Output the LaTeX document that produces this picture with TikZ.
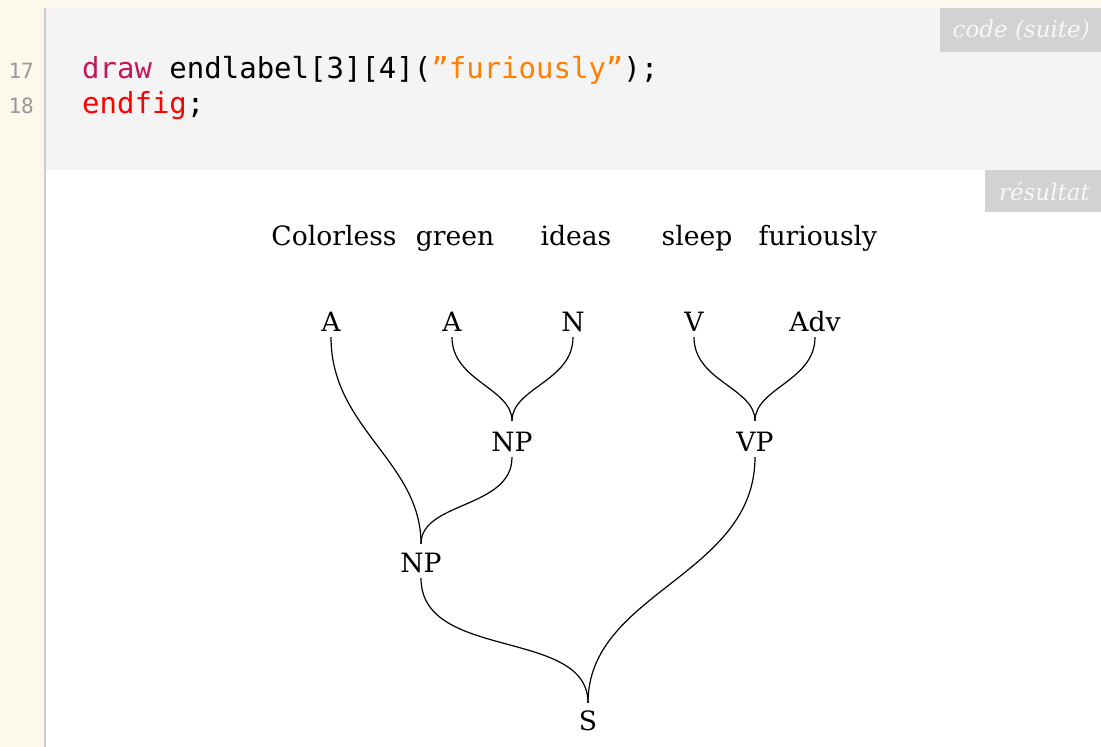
\documentclass[tikz,border=0pt]{standalone}
\usepackage{fontspec}
\setmainfont{DejaVu Serif}
\setmonofont{DejaVu Sans Mono}
\usepackage{xcolor}
\usepackage{tikz}

\definecolor{cream}{HTML}{FDF8EC}
\definecolor{codebg}{HTML}{F4F4F4}
\definecolor{tagbg}{HTML}{D1D2D4}
\definecolor{rulecol}{HTML}{CCCCCC}
\definecolor{lineno}{HTML}{999999}
\definecolor{kwdraw}{HTML}{C2185B}
\definecolor{kwend}{HTML}{FF0000}
\definecolor{strcol}{HTML}{FF8000}

\tikzset{
  word/.style={anchor=base, inner sep=0pt, font=\fontsize{26.6}{30}\selectfont},
  cat/.style={anchor=base, inner sep=0pt, text height=19pt, text depth=0pt,
    font=\fontsize{26.6}{30}\selectfont},
  codeline/.style={anchor=base west, inner sep=0pt, font=\fontsize{29}{34}\selectfont\ttfamily},
  lno/.style={anchor=base east, inner sep=0pt, text=lineno, font=\fontsize{21}{24}\selectfont\ttfamily},
  tag/.style={anchor=base east, inner sep=0pt, text=white!97!black, font=\fontsize{23}{26}\selectfont\itshape},
  branch/.style={line width=1.2pt},
}

\begin{document}
\begin{tikzpicture}[x=1pt, y=1pt]
\useasboundingbox (0,0) rectangle (1101,-747);
% page background
\fill[white] (0,0) rectangle (1101,-747);
\fill[cream] (0,0) rectangle (44,-747);
\fill[cream] (0,0) rectangle (1101,-8);
\fill[codebg] (46,-8) rectangle (1101,-170);
\fill[rulecol] (44,-8) rectangle (46,-747);
\fill[tagbg] (940,-8) rectangle (1101,-52);
\fill[tagbg] (985,-170) rectangle (1101,-212);
\node[tag] (tagcode) at (1090,-37) {code (suite)};
\node[tag] (tagres) at (1090,-200) {résultat};

% listing
\node[lno] (n17) at (34,-78) {17};
\node[lno] (n18) at (34,-113) {18};
\node[codeline] (l17) at (82,-78) {{\color{kwdraw}draw} endlabel[3][4]({\color{strcol}”furiously”});};
\node[codeline] (l18) at (82,-113) {{\color{kwend}endfig};};

% words
\node[word] (w1) at (334,-245) {Colorless};
\node[word] (w2) at (455,-245) {green};
\node[word] (w3) at (576,-245) {ideas};
\node[word] (w4) at (697,-245) {sleep};
\node[word] (w5) at (818,-245) {furiously};

% categories
\node[cat] (a1) at (331,-331) {A};
\node[cat] (a2) at (452,-331) {A};
\node[cat] (n1) at (573,-331) {N};
\node[cat] (v1) at (694,-331) {V};
\node[cat] (adv1) at (815,-331) {Adv};
\node[cat] (np1) at (512,-451) {NP};
\node[cat] (vp1) at (755,-451) {VP};
\node[cat] (np2) at (421,-572) {NP};
\node[cat] (s) at (588,-730) {S};

% branches, cut short above the mother label
\foreach \kid/\head/\cut in {a2/np1/11, n1/np1/11, v1/vp1/11, adv1/vp1/11,
    a1/np2/9, np1/np2/9, np2/s/8, vp1/s/8}
  \draw[branch, shorten >=\cut pt] ([yshift=-6pt]\kid.south) to[out=-90, in=90] (\head.north);
\end{tikzpicture}
\end{document}
